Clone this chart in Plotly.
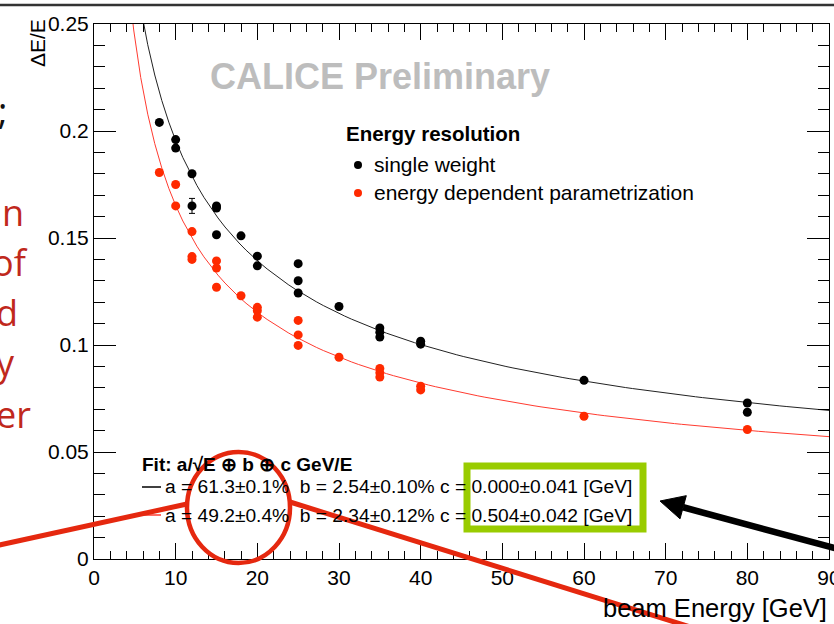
import numpy as np
import plotly.graph_objects as go

# ---- measured resolution points -------------------------------------------
energy_single = [8, 10, 10, 12, 12, 15, 15, 15, 18, 20, 20, 25, 25, 25, 30,
                 35, 35, 35, 40, 40, 60, 80, 80]
res_single = [0.204, 0.196, 0.192, 0.180, 0.165, 0.165, 0.164, 0.1515, 0.151,
              0.1415, 0.137, 0.138, 0.130, 0.1243, 0.118, 0.108, 0.106, 0.1037,
              0.1018, 0.1004, 0.0835, 0.0729, 0.0686]
err_single = [0.001, 0.001, 0.001, 0.001, 0.0035, 0.001, 0.001, 0.001, 0.001,
              0.001, 0.001, 0.001, 0.001, 0.001, 0.001, 0.001, 0.001, 0.001,
              0.001, 0.001, 0.001, 0.001, 0.001]

energy_param = [8, 10, 10, 12, 12, 12, 15, 15, 15, 18, 20, 20, 20, 25, 25, 25,
                30, 35, 35, 35, 40, 40, 60, 80]
res_param = [0.1806, 0.175, 0.165, 0.153, 0.1413, 0.140, 0.1393, 0.136, 0.127,
             0.123, 0.1176, 0.116, 0.113, 0.1115, 0.1047, 0.0998, 0.0943, 0.089,
             0.087, 0.085, 0.0807, 0.079, 0.0667, 0.0605]

# ---- fit parameters: a/sqrt(E) (+) b (+) c/E ---------------------------------
fit_single = {"a": 0.613, "b": 0.0254, "c": 0.000}
fit_param = {"a": 0.492, "b": 0.0234, "c": 0.504}

x_ticks = [0, 10, 20, 30, 40, 50, 60, 70, 80, 90]
y_ticks = [0, 0.05, 0.1, 0.15, 0.2, 0.25]

BLACK = "#000000"
RED = "#ff2a00"
ANNOT_RED = "#e5280f"
GREEN = "#99cc00"
FONT = "Liberation Sans, Arial, sans-serif"


def resolution(e, p):
    return np.sqrt((p["a"] / np.sqrt(e)) ** 2 + p["b"] ** 2 + (p["c"] / e) ** 2)


e_grid = np.linspace(4, 90, 101)

# ---- page geometry (pixels) --------------------------------------------------
W, H = 834, 624
L, R, T, B = 94, 829, 24, 559


def px(x):
    return (x - L) / (R - L)


def py(y):
    return (B - y) / (B - T)


fig = go.Figure()

fig.add_trace(go.Scatter(x=e_grid, y=resolution(e_grid, fit_single), mode="lines",
                         line=dict(color="#222222", width=1), hoverinfo="skip",
                         showlegend=False))
fig.add_trace(go.Scatter(x=e_grid, y=resolution(e_grid, fit_param), mode="lines",
                         line=dict(color="#ff3b30", width=1), hoverinfo="skip",
                         showlegend=False))
fig.add_trace(go.Scatter(x=energy_single, y=res_single, mode="markers",
                         marker=dict(color=BLACK, size=9),
                         error_y=dict(type="data", array=err_single, color=BLACK,
                                      thickness=1, width=3),
                         name="single weight", showlegend=False))
fig.add_trace(go.Scatter(x=energy_param, y=res_param, mode="markers",
                         marker=dict(color=RED, size=9),
                         name="energy dependent parametrization", showlegend=False))

shapes = []
annotations = []


def text(x, y, s, size, color="#000000", xanchor="left", yanchor="middle",
         family=FONT, angle=0):
    annotations.append(dict(x=px(x), y=py(y), xref="paper", yref="paper", text=s,
                            showarrow=False, xanchor=xanchor, yanchor=yanchor,
                            textangle=angle,
                            font=dict(size=size, color=color, family=family)))


def line(x0, y0, x1, y1, color, width):
    shapes.append(dict(type="line", xref="paper", yref="paper",
                       x0=px(x0), y0=py(y0), x1=px(x1), y1=py(y1),
                       line=dict(color=color, width=width), layer="above"))


# axis titles
text(37, 17, "ΔE/E", 21, xanchor="center", yanchor="top", angle=-90)
text(829, 608, "beam Energy [GeV]", 25.5, xanchor="right")

# watermark
text(380, 77, "<b>CALICE Preliminary</b>", 36, color="#bdbdbd", xanchor="center")

# legend block
text(344, 133, "<b>Energy resolution</b>", 20.5)
text(372, 164, "single weight", 21)
text(372, 192, "energy dependent parametrization", 21)
for yy, col in [(165, BLACK), (193, RED)]:
    shapes.append(dict(type="circle", xref="paper", yref="paper",
                       xsizemode="pixel", ysizemode="pixel",
                       xanchor=px(358), yanchor=py(yy), x0=-4, x1=4, y0=-4, y1=4,
                       fillcolor=col, line=dict(width=0), layer="above"))

# fit summary
text(140, 464, "<b>Fit: a/√E ⊕ b ⊕ c GeV/E</b>", 19)
text(163, 487, "a = 61.3±0.1%  b = 2.54±0.10% c = 0.000±0.041 [GeV]", 19.2)
text(163, 515, "a = 49.2±0.4%  b = 2.34±0.12% c = 0.504±0.042 [GeV]", 19.2)
line(142, 487, 161, 487, "#000000", 1.5)
line(142, 515, 161, 515, "#ff3b30", 1.5)

# slide text running in from the left
text(9, 110, ";", 36, color="#111111", xanchor="right", family="Open Sans")
for yy, frag, xr in [(212, "an", 26), (262, "of", 30), (312, "d", 20),
                     (362, "y", 17), (414, "er", 33)]:
    text(xr, yy, frag, 36, color="#c0281c", xanchor="right", family="Open Sans")

# slide decorations
line(-10, 5, 850, 5, "#333333", 2.5)
shapes.append(dict(type="circle", xref="paper", yref="paper",
                   x0=px(187), x1=px(290), y0=py(563), y1=py(452),
                   line=dict(color=ANNOT_RED, width=4.5), layer="above"))
line(-5, 546, 187, 504, ANNOT_RED, 5)
line(290, 502, 700, 630, ANNOT_RED, 5)
shapes.append(dict(type="rect", xref="paper", yref="paper",
                   x0=px(467), x1=px(643), y0=py(529), y1=py(466),
                   line=dict(color=GREEN, width=7), layer="above"))

# arrow pointing at the constant terms
tip = np.array([660.0, 501.0])
tail = np.array([860.0, 555.0])
d = (tail - tip) / np.linalg.norm(tail - tip)
n = np.array([-d[1], d[0]])
base = tip + 24 * d
line(base[0], base[1], tail[0], tail[1], "#000000", 6.5)
c1 = base + 12 * n
c2 = base - 12 * n
path = "M {} {} L {} {} L {} {} Z".format(px(tip[0]), py(tip[1]), px(c1[0]), py(c1[1]),
                                          px(c2[0]), py(c2[1]))
shapes.append(dict(type="path", xref="paper", yref="paper", path=path,
                   fillcolor="#000000", line=dict(color="#000000", width=1),
                   layer="above"))

axis_common = dict(showgrid=False, zeroline=False, showline=True, linecolor="#000000",
                   linewidth=1, mirror="ticks", ticks="inside", tickcolor="#000000",
                   tickwidth=1, ticklabeloverflow="allow", automargin=False,
                   tickfont=dict(family=FONT, size=21, color="#000000"))

fig.update_layout(
    width=W, height=H,
    margin=dict(l=L, r=W - R, t=T, b=H - B, pad=0, autoexpand=False),
    paper_bgcolor="white", plot_bgcolor="white",
    xaxis=dict(range=[0, 90], tickvals=x_ticks, ticklen=16,
               minor=dict(dtick=2, ticklen=8, ticks="inside", tickcolor="#000000"),
               **axis_common),
    yaxis=dict(range=[0, 0.25], tickvals=y_ticks, ticklen=22,
               minor=dict(dtick=0.01, ticklen=11, ticks="inside", tickcolor="#000000"),
               **axis_common),
    shapes=shapes,
    annotations=annotations,
)

fig.write_html("out.html")
